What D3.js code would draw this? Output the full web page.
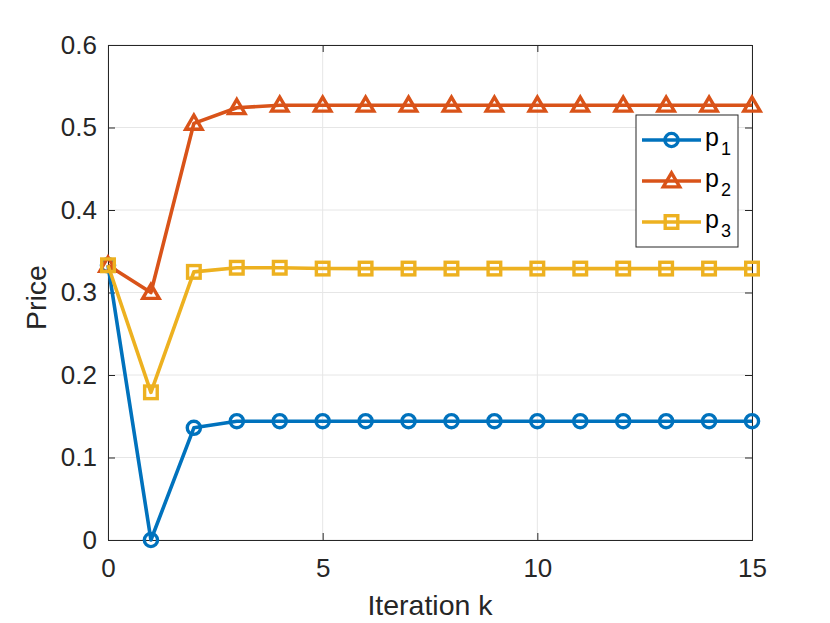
<!DOCTYPE html>
<html><head><meta charset="utf-8">
<script src="https://cdn.jsdelivr.net/npm/d3@7"></script>
<style>body{margin:0;background:#fff}svg{font-family:"Liberation Sans",Arial,sans-serif}</style>
</head><body><svg id="c" width="830" height="623"></svg>
<script>
const iterations = d3.range(0, 16);
const p1 = [0.333, 0.000, 0.136, 0.144, 0.144, 0.144, 0.144, 0.144, 0.144, 0.144, 0.144, 0.144, 0.144, 0.144, 0.144, 0.144];
const p2 = [0.333, 0.300, 0.505, 0.524, 0.527, 0.527, 0.527, 0.527, 0.527, 0.527, 0.527, 0.527, 0.527, 0.527, 0.527, 0.527];
const p3 = [0.333, 0.179, 0.325, 0.330, 0.330, 0.329, 0.329, 0.329, 0.329, 0.329, 0.329, 0.329, 0.329, 0.329, 0.329, 0.329];
const xTicks = [0, 5, 10, 15];
const yTicks = [0, 0.1, 0.2, 0.3, 0.4, 0.5, 0.6];
const seriesNames = ["1", "2", "3"];
const colors = ["#0072BD", "#D95319", "#EDB120"];
const markers = ["circle", "triangle", "square"];

const L = 108, R = 752, T = 45, B = 540;
const svg = d3.select("#c");
const x = d3.scaleLinear().domain([0, 15]).range([L, R]);
const y = d3.scaleLinear().domain([0, 0.6]).range([B, T]);

// grid
svg.append("g").selectAll("line").data(xTicks).join("line")
  .attr("x1", d => x(d)).attr("x2", d => x(d)).attr("y1", T).attr("y2", B)
  .attr("stroke", "#e6e6e6").attr("stroke-width", 1);
svg.append("g").selectAll("line").data(yTicks).join("line")
  .attr("y1", d => y(d)).attr("y2", d => y(d)).attr("x1", L).attr("x2", R)
  .attr("stroke", "#e6e6e6").attr("stroke-width", 1);

// axes
const fmtY = d => d === 0 ? "0" : d3.format(".1f")(d);
const gx = svg.append("g").attr("transform", `translate(0,${B})`)
  .call(d3.axisBottom(x).tickValues(xTicks).tickSize(-7).tickPadding(19).tickFormat(d3.format("d")));
const gx2 = svg.append("g").attr("transform", `translate(0,${T})`)
  .call(d3.axisTop(x).tickValues(xTicks).tickSize(-7).tickFormat(""));
const gy = svg.append("g").attr("transform", `translate(${L},0)`)
  .call(d3.axisLeft(y).tickValues(yTicks).tickSize(-7).tickPadding(11).tickFormat(fmtY));
const gy2 = svg.append("g").attr("transform", `translate(${R},0)`)
  .call(d3.axisRight(y).tickValues(yTicks).tickSize(-7).tickFormat(""));
[gx, gx2, gy, gy2].forEach(g => {
  g.select(".domain").attr("stroke", "#262626").attr("stroke-width", 1);
  g.selectAll(".tick line").attr("stroke", "#262626");
  g.selectAll(".tick text").attr("fill", "#262626").style("font-size", "26px").style("font-family", "Liberation Sans, Arial, sans-serif");
});

svg.append("text").attr("x", (L + R) / 2).attr("y", 615).attr("text-anchor", "middle")
  .attr("fill", "#262626").style("font-size", "28.5px").text("Iteration k");
svg.append("text").attr("transform", `translate(46,${(T + B) / 2 + 5}) rotate(-90)`).attr("text-anchor", "middle")
  .attr("fill", "#262626").style("font-size", "28.5px").text("Price");

function marker(g, type, color, cx, cy) {
  const sw = 3.4;
  if (type === "circle") {
    g.append("circle").attr("cx", cx).attr("cy", cy).attr("r", 6.6)
      .attr("fill", "none").attr("stroke", color).attr("stroke-width", sw);
  } else if (type === "triangle") {
    const s = 8.2;
    g.append("path").attr("d", `M${cx},${cy - s}L${cx + s},${cy + s * 0.72}L${cx - s},${cy + s * 0.72}Z`)
      .attr("fill", "none").attr("stroke", color).attr("stroke-width", sw).attr("stroke-linejoin", "miter");
  } else {
    const s = 6.3;
    g.append("rect").attr("x", cx - s).attr("y", cy - s).attr("width", 2 * s).attr("height", 2 * s)
      .attr("fill", "none").attr("stroke", color).attr("stroke-width", sw);
  }
}

const data = [p1, p2, p3];
const line = d3.line().x((d, i) => x(iterations[i])).y(d => y(d));
data.forEach((s, k) => {
  const g = svg.append("g");
  g.append("path").datum(s).attr("d", line).attr("fill", "none")
    .attr("stroke", colors[k]).attr("stroke-width", 3.6).attr("stroke-linejoin", "round");
  s.forEach((v, i) => marker(g, markers[k], colors[k], x(iterations[i]), y(v)));
});

// legend
const lg = svg.append("g");
lg.append("rect").attr("x", 636).attr("y", 115).attr("width", 102).attr("height", 132)
  .attr("fill", "#fff").attr("stroke", "#262626").attr("stroke-width", 1);
seriesNames.forEach((n, k) => {
  const cy = 140 + k * 41;
  lg.append("line").attr("x1", 642).attr("x2", 701).attr("y1", cy).attr("y2", cy)
    .attr("stroke", colors[k]).attr("stroke-width", 3.6);
  marker(lg, markers[k], colors[k], 671.5, cy);
  const t = lg.append("text").attr("x", 705).attr("y", cy + 6).attr("fill", "#000").style("font-size", "25px");
  t.append("tspan").text("p");
  t.append("tspan").attr("dx", 2).attr("dy", 9).style("font-size", "18px").text(n);
});
</script></body></html>
